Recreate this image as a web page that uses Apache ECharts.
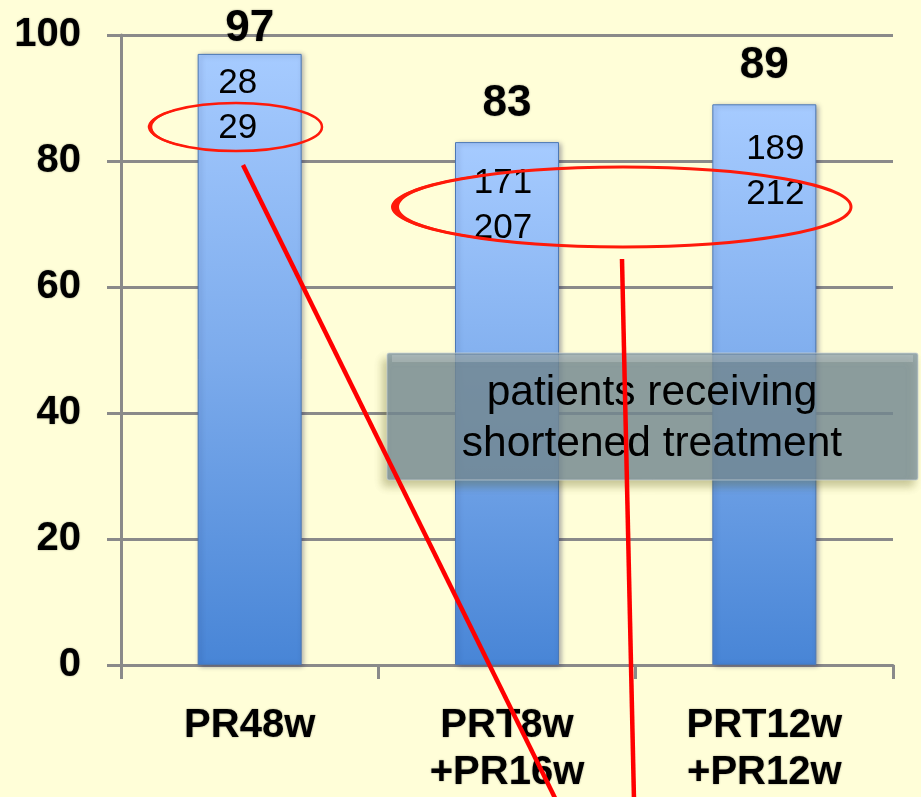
<!DOCTYPE html>
<html>
<head>
<meta charset="utf-8">
<script src="https://cdn.jsdelivr.net/npm/echarts@6/dist/echarts.min.js"></script>
<style>
  html, body { margin: 0; padding: 0; background: #FFFED8; }
  #chart { width: 921px; height: 797px; }
</style>
</head>
<body>
<div id="chart"></div>
<script>
// SVR rates (%) per treatment arm, with responders / treated counts
const categories = ['PR48w', 'PRT8w\n+PR16w', 'PRT12w\n+PR12w'];
const svrRate = [97, 83, 89];
const responders = [28, 171, 189];
const treated = [29, 207, 212];
const yMin = 0, yMax = 100, yStep = 20;
const calloutText = 'patients receiving\nshortened treatment';

// per-bar label placement tweaks
const topLabelGap = [3, 16, 16];
const ratioOffset = [[-12, 7], [-4, 19], [11, 23]];

const chart = echarts.init(document.getElementById('chart'), null, { renderer: 'canvas' });

const barFill = new echarts.graphic.LinearGradient(0, 0, 0, 1, [
  { offset: 0, color: '#A6CBFF' },
  { offset: 0.5, color: '#7CABEC' },
  { offset: 1, color: '#4885D6' }
]);

const valueFont = { fontFamily: '"Liberation Sans", Arial, sans-serif', color: '#000' };

const option = {
  backgroundColor: '#FFFED8',
  animation: false,
  grid: { left: 121, right: 28, top: 35, bottom: 132, containLabel: false },
  xAxis: {
    type: 'category',
    data: categories,
    axisLine: { lineStyle: { color: '#8A8A8A', width: 3 } },
    axisTick: { show: true, length: 14, lineStyle: { color: '#8A8A8A', width: 3 } },
    axisLabel: {
      ...valueFont, fontSize: 40, fontWeight: 'bold', lineHeight: 47, margin: 37,
      textShadowColor: 'rgba(0,0,0,0.4)', textShadowBlur: 2
    }
  },
  yAxis: {
    type: 'value',
    min: yMin, max: yMax, interval: yStep,
    axisLine: { show: true, lineStyle: { color: '#8A8A8A', width: 3 } },
    axisTick: { show: true, length: 14, lineStyle: { color: '#8A8A8A', width: 3 } },
    splitLine: { show: true, lineStyle: { color: '#8A8A8A', width: 3 } },
    axisLabel: {
      ...valueFont, fontSize: 40, fontWeight: 'bold', margin: 40,
      textShadowColor: 'rgba(0,0,0,0.4)', textShadowBlur: 2
    }
  },
  series: [
    {
      name: 'SVR',
      type: 'bar',
      barWidth: 104,
      itemStyle: {
        color: barFill,
        borderColor: '#4C78B4',
        borderWidth: 1,
        shadowColor: 'rgba(0,0,60,0.35)',
        shadowBlur: 5,
        shadowOffsetX: 2,
        shadowOffsetY: 1
      },
      data: svrRate.map((v, i) => ({
        value: v,
        label: {
          show: true, position: 'top', distance: topLabelGap[i],
          ...valueFont, fontSize: 44, fontWeight: 'bold',
          textShadowColor: 'rgba(0,0,0,0.4)', textShadowBlur: 2
        }
      })),
      z: 2
    },
    {
      name: 'ratio',
      type: 'bar',
      barWidth: 104,
      barGap: '-100%',
      silent: true,
      itemStyle: { color: 'rgba(0,0,0,0)' },
      data: svrRate.map((v, i) => ({
        value: v,
        label: {
          show: true, position: 'insideTop', distance: 0, offset: ratioOffset[i],
          formatter: responders[i] + '\n' + treated[i],
          ...valueFont, fontSize: 35, lineHeight: 45
        }
      })),
      z: 3
    }
  ],
  graphic: [
    // callout box
    {
      type: 'rect', z: 100,
      shape: { x: 387, y: 353, width: 531, height: 127, r: 2 },
      style: {
        fill: 'rgba(118,140,158,0.74)',
        stroke: 'rgba(200,210,215,0.7)', lineWidth: 1,
        shadowColor: 'rgba(90,90,20,0.45)', shadowBlur: 8,
        shadowOffsetX: -4, shadowOffsetY: 6
      }
    },
    {
      type: 'rect', z: 101,
      shape: { x: 392, y: 355, width: 521, height: 7 },
      style: { fill: 'rgba(255,255,255,0.18)' }
    },
    {
      type: 'text', z: 102,
      x: 652, y: 419,
      style: {
        text: calloutText,
        fontFamily: '"Liberation Sans", Arial, sans-serif',
        fontSize: 42.5, lineHeight: 51,
        fill: '#000', align: 'center', verticalAlign: 'middle'
      }
    },
    // red hand-drawn ellipses
    {
      type: 'ellipse', z: 110,
      shape: { cx: 236, cy: 127, rx: 86, ry: 24 },
      style: { fill: null, stroke: '#FF1A0A', lineWidth: 2.5 }
    },
    {
      type: 'arc', z: 110,
      x: 236, y: 127, scaleY: 24 / 86,
      shape: { cx: 0, cy: 0, r: 86, startAngle: Math.PI * 0.7, endAngle: Math.PI * 1.25 },
      style: { fill: null, stroke: '#FF1A0A', lineWidth: 4.5 }
    },
    {
      type: 'ellipse', z: 110,
      shape: { cx: 623, cy: 207, rx: 228, ry: 40 },
      style: { fill: null, stroke: '#FF1A0A', lineWidth: 3 }
    },
    {
      type: 'arc', z: 110,
      x: 623, y: 207, scaleY: 40 / 228,
      shape: { cx: 0, cy: 0, r: 228, startAngle: Math.PI * 0.62, endAngle: Math.PI * 1.3 },
      style: { fill: null, stroke: '#FF1A0A', lineWidth: 8 }
    },
    // red pointer lines
    {
      type: 'line', z: 111,
      shape: { x1: 243, y1: 165, x2: 556, y2: 800 },
      style: { stroke: '#FF0000', lineWidth: 4.5 }
    },
    {
      type: 'line', z: 111,
      shape: { x1: 622, y1: 259, x2: 634, y2: 800 },
      style: { stroke: '#FF0000', lineWidth: 4.5 }
    }
  ]
};

chart.setOption(option);
</script>
</body>
</html>
